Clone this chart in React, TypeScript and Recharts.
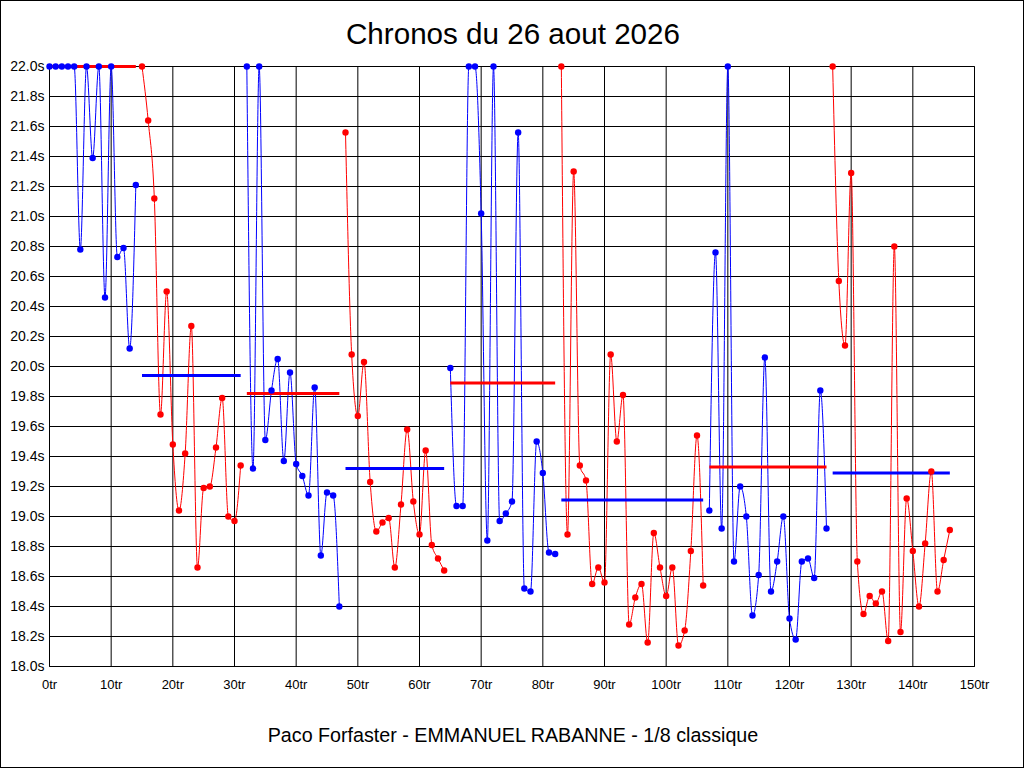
import { CartesianGrid, Line, LineChart, XAxis, YAxis } from "recharts";

// lap times in seconds, one per lap (index = lap number)
const lapTimes = [
  22.0, 22.0, 22.0, 22.0, 22.0, 20.78, 22.0, 21.39, 22.0, 20.46,
  22.0, 20.73, 20.79, 20.12, 21.21, 22.0, 21.64, 21.12, 19.68, 20.5,
  19.48, 19.04, 19.42, 20.27, 18.66, 19.19, 19.2, 19.46, 19.79, 19.0,
  18.97, 19.34, 22.0, 19.32, 22.0, 19.51, 19.84, 20.05, 19.37, 19.96,
  19.35, 19.27, 19.14, 19.86, 18.74, 19.16, 19.14, 18.4, 21.56, 20.08,
  19.67, 20.03, 19.23, 18.9, 18.96, 18.99, 18.66, 19.08, 19.58, 19.1,
  18.88, 19.44, 18.81, 18.72, 18.64, 19.99, 19.07, 19.07, 22.0, 22.0,
  21.02, 18.84, 22.0, 18.97, 19.02, 19.1, 21.56, 18.52, 18.5, 19.5,
  19.29, 18.76, 18.75, 22.0, 18.88, 21.3, 19.34, 19.24, 18.55, 18.66,
  18.56, 20.08, 19.5, 19.81, 18.28, 18.46, 18.55, 18.16, 18.89, 18.66,
  18.47, 18.66, 18.14, 18.24, 18.77, 19.54, 18.54, 19.04, 20.76, 18.92,
  22.0, 18.7, 19.2, 19.0, 18.34, 18.61, 20.06, 18.5, 18.7, 19.0,
  18.32, 18.18, 18.7, 18.72, 18.59, 19.84, 18.92, 22.0, 20.57, 20.14,
  21.29, 18.7, 18.35, 18.47, 18.42, 18.5, 18.17, 20.8, 18.23, 19.12,
  18.77, 18.4, 18.82, 19.3, 18.5, 18.71, 18.91,
];

// first and last lap of each run
const runStarts = [0, 15, 32, 48, 65, 83, 107, 127];
const runEnds = [14, 31, 47, 64, 82, 106, 126, 146];
// average of each run (first one is clipped to the top)
const runMeans = [22.0, 19.94, 19.82, 19.32, 19.89, 19.11, 19.33, 19.29];
const runColors = ["#0000ff", "#ff0000", "#0000ff", "#ff0000", "#0000ff", "#ff0000", "#0000ff", "#ff0000"];
const meanColors = ["#ff0000", "#0000ff", "#ff0000", "#0000ff", "#ff0000", "#0000ff", "#ff0000", "#0000ff"];

const xTicks = [0, 10, 20, 30, 40, 50, 60, 70, 80, 90, 100, 110, 120, 130, 140, 150];
const yTicks = [
  18.0, 18.2, 18.4, 18.6, 18.8, 19.0, 19.2, 19.4, 19.6, 19.8, 20.0,
  20.2, 20.4, 20.6, 20.8, 21.0, 21.2, 21.4, 21.6, 21.8, 22.0,
];

const font = "'Liberation Sans', Arial, sans-serif";

const runs = runStarts.map((start, i) => {
  const pts = [];
  for (let lap = start; lap <= runEnds[i]; lap++) pts.push({ lap, t: lapTimes[lap] });
  return pts;
});

const means = runStarts.map((start, i) => [
  { lap: start, t: runMeans[i] },
  { lap: runEnds[i], t: runMeans[i] },
]);

const tickStyle = { fill: "#000", fontSize: 14, fontFamily: font };

export default function App() {
  return (
    <div style={{ position: "absolute", left: 0, top: 0, width: 1024, height: 768, background: "#fff" }}>
      <LineChart width={1024} height={768} margin={{ top: 66.5, right: 0, bottom: 71.5, left: 0 }}>
        <CartesianGrid yAxisId="left" stroke="#000" strokeWidth={1} />
        <XAxis
          dataKey="lap"
          type="number"
          domain={[0, 150]}
          ticks={xTicks}
          interval={0}
          tickFormatter={(v: number) => `${v}tr`}
          tick={{ ...tickStyle, fontSize: 13 }}
          tickLine={false}
          tickSize={0}
          tickMargin={13}
          axisLine={{ stroke: "#000" }}
          height={30}
        />
        <YAxis
          yAxisId="left"
          type="number"
          domain={[18, 22]}
          ticks={yTicks}
          interval={0}
          tickFormatter={(v: number) => `${v.toFixed(1)}s`}
          tick={tickStyle}
          tickLine={false}
          tickSize={0}
          tickMargin={5}
          axisLine={{ stroke: "#000" }}
          width={49.5}
        />
        <YAxis
          yAxisId="right"
          orientation="right"
          type="number"
          domain={[18, 22]}
          ticks={yTicks}
          interval={0}
          tickFormatter={(v: number) => `${v.toFixed(1)}s`}
          tick={tickStyle}
          tickLine={false}
          tickSize={0}
          tickMargin={5}
          axisLine={{ stroke: "#000" }}
          width={49.5}
        />
        {runs.map((pts, i) => (
          <Line
            key={`run-${i}`}
            yAxisId="left"
            data={pts}
            dataKey="t"
            type="monotone"
            stroke={runColors[i]}
            strokeWidth={1}
            dot={false}
            activeDot={false}
            isAnimationActive={false}
          />
        ))}
        {means.map((pts, i) => (
          <Line
            key={`mean-${i}`}
            yAxisId="left"
            data={pts}
            dataKey="t"
            type="linear"
            stroke={meanColors[i]}
            strokeWidth={3}
            dot={false}
            activeDot={false}
            isAnimationActive={false}
          />
        ))}
        {runs.map((pts, i) => (
          <Line
            key={`dots-${i}`}
            yAxisId="left"
            data={pts}
            dataKey="t"
            type="linear"
            stroke={runColors[i]}
            strokeOpacity={0}
            dot={{ r: 3.2, fill: runColors[i], stroke: runColors[i], strokeWidth: 0 }}
            activeDot={false}
            isAnimationActive={false}
          />
        ))}
      </LineChart>
      <svg
        width={1024}
        height={768}
        style={{ position: "absolute", left: 0, top: 0, pointerEvents: "none" }}
      >
        <rect x={0.5} y={0.5} width={1023} height={767} fill="none" stroke="#000" />
        <text x={513} y={44} textAnchor="middle" fontSize={29.6} fontFamily={font} fill="#000">
          Chronos du 26 aout 2026
        </text>
        <text x={513} y={741.5} textAnchor="middle" fontSize={19.7} fontFamily={font} fill="#000">
          Paco Forfaster - EMMANUEL RABANNE - 1/8 classique
        </text>
      </svg>
    </div>
  );
}
